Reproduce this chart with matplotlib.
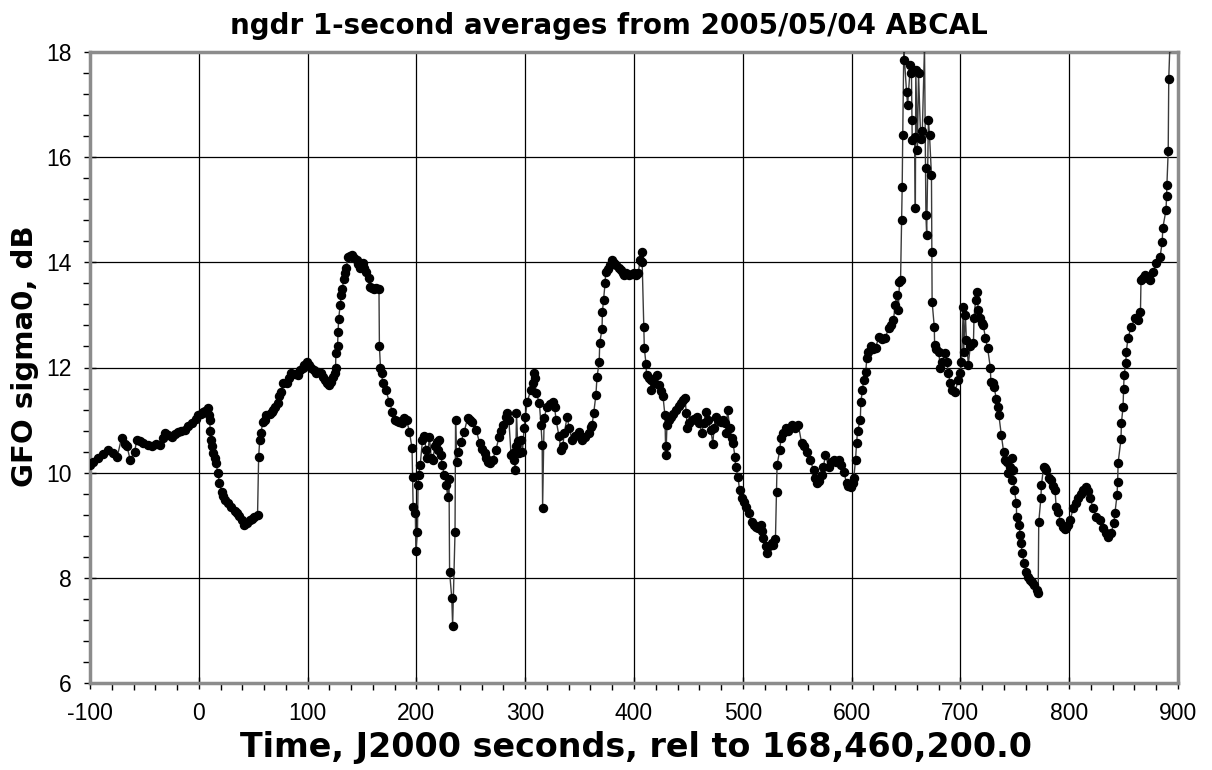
import matplotlib
matplotlib.use('Agg')
import matplotlib.pyplot as plt
from matplotlib.ticker import MultipleLocator

plt.rcParams['font.family'] = ['Liberation Sans', 'DejaVu Sans']
plt.rcParams['axes.unicode_minus'] = False

# Tempo (s, rel. a 168,460,200.0) e sigma0 (dB)
tempi = [
    -100, -97, -93, -88, -83, -79, -75, -71, -68, -66, -63, -59, -57, -54, -51, -47, -43, -39, -36, -33,
    -31, -28, -25, -22, -19, -16, -13, -10, -6, -3, -1, 2, 4, 6, 8, 9, 10, 10.5, 11, 12,
    13, 14.5, 15.6, 17.5, 19, 21, 22.5, 24, 27, 30, 33, 35, 37, 39.5, 42, 44, 47, 49, 51, 54,
    55, 56, 57, 59, 60.5, 62, 65, 67, 68, 70, 72.5, 74, 76, 77, 80.7, 83, 85, 88, 91, 93,
    95.6, 97, 99, 101, 103.5, 106, 108, 110, 112.6, 114, 115.6, 118, 120, 121.5, 123, 125, 125.7, 126, 127.5, 128,
    128.5, 130, 131, 132, 133, 134.5, 135.6, 137, 139, 141, 143, 145, 146.5, 148, 150.6, 152, 154, 156, 157, 159,
    161, 163, 165.6, 166, 167, 168, 169, 172, 175, 178, 180, 182, 184, 187, 189, 191, 193.6, 196, 196.5, 197,
    199, 199.5, 201, 201.5, 202, 203.5, 205.6, 207, 209, 210, 212, 213.6, 215, 217, 219, 220, 221, 222.6, 223.6, 225.7,
    227.5, 228.7, 230, 230.5, 232.5, 233.3, 235.5, 236, 237, 238.6, 241, 244, 247, 249, 251.5, 255, 258, 260, 262.6, 264,
    266, 268, 270, 273, 276, 278, 280, 282, 283.6, 285, 287, 288.5, 290, 291, 291.5, 292, 293, 294.5, 296, 297.5,
    299, 300, 302, 305, 307, 308, 309, 310, 313, 314.5, 315.6, 316, 317.4, 320, 323, 325.7, 327, 328.4, 331, 333,
    334.5, 336, 338.5, 340.5, 343, 346, 349.5, 352, 355, 358.7, 360.5, 361.5, 363, 365, 366, 368, 368.5, 370.6, 371, 372,
    373.4, 374, 376, 378, 380, 382, 383.5, 386, 388, 390, 391, 393, 395.4, 398, 400, 402, 404, 405.5, 407, 407.5,
    409, 409.5, 411, 411.5, 413.5, 415.6, 415.8, 418, 421, 423, 425, 426.6, 428.4, 429, 429.4, 430.3, 432, 434, 436, 438.5,
    441, 443, 445, 447, 448, 449, 451, 453, 455.5, 458, 460, 462.4, 464, 466, 468, 470.6, 472.5, 473.5, 475, 477.5,
    480, 482, 484, 484.5, 486, 488, 490, 491, 492.8, 493.4, 495.6, 497, 499.6, 501, 502.6, 505.5, 508, 510, 512, 514,
    516.5, 518, 519, 521, 522, 524, 526.6, 528, 530, 531, 531.5, 534, 535, 537, 539.5, 542, 545, 548, 551, 554,
    556, 559, 562, 565, 566.5, 568, 570, 572.5, 574, 576, 579, 581, 583.5, 586, 588, 590, 592.7, 595.5, 597, 599,
    601, 602, 603.6, 604.6, 605.5, 608, 608.5, 610, 611, 613, 614, 615.5, 617.4, 620, 622, 625, 628, 631, 634, 636,
    638.5, 640, 641.5, 643, 644, 645, 646, 646.5, 647, 648, 648.6, 650.5, 651.5, 654, 655, 655.5, 655.7, 658, 658.6, 659,
    660.5, 661.5, 663.5, 665, 667, 668, 668.3, 669, 670.6, 671.6, 673.4, 673.8, 674, 676, 676.3, 678, 680, 681.6, 683, 686,
    687.5, 689, 690.5, 692, 695, 698, 700, 701, 702.7, 703, 704.6, 705.5, 707.3, 709, 712, 712.5, 714, 715, 716.5, 718,
    719.5, 721, 723, 725, 727.5, 728, 730, 731, 733, 735, 735.3, 737.6, 739.7, 741, 743, 744, 745.5, 747, 747.5, 748.6,
    749.5, 751.5, 751.6, 754, 755, 756, 756.5, 758.7, 760.6, 762, 764, 766, 768, 770, 771.5, 772, 774, 774.5, 776.5, 778,
    779, 781, 783.5, 785, 787, 788, 790, 792, 794.5, 796, 797.5, 799, 801, 803.7, 806, 808, 810.5, 813, 815.6, 817,
    819, 822, 825, 828.4, 831, 833.5, 835.8, 838.6, 841, 842, 844, 844.5, 845, 847.6, 848, 849.5, 850, 850.5, 852, 852.5,
    854, 857, 860.5, 863, 865.5, 866, 868, 870, 872, 874, 877, 880, 883.5, 885.5, 886, 889, 889.5, 889.8, 891, 891.5,
    892.5,
]

sigma0 = [
    10.15, 10.2, 10.28, 10.35, 10.43, 10.38, 10.3, 10.66, 10.55, 10.5, 10.24, 10.4, 10.62, 10.6, 10.57, 10.52, 10.5, 10.55, 10.53, 10.65,
    10.76, 10.72, 10.68, 10.74, 10.78, 10.8, 10.81, 10.88, 10.95, 11.02, 11.1, 11.12, 11.16, 11.18, 11.23, 11.1, 11.0, 10.8, 10.62, 10.5,
    10.37, 10.28, 10.19, 10.0, 9.8, 9.64, 9.55, 9.48, 9.42, 9.35, 9.28, 9.23, 9.17, 9.1, 9.0, 9.05, 9.1, 9.12, 9.16, 9.2,
    10.3, 10.62, 10.75, 10.97, 11.0, 11.1, 11.12, 11.16, 11.19, 11.25, 11.33, 11.45, 11.54, 11.7, 11.71, 11.8, 11.9, 11.88, 11.86, 11.95,
    12.0, 12.05, 12.1, 12.05, 12.0, 11.95, 11.9, 11.92, 11.9, 11.82, 11.76, 11.7, 11.67, 11.72, 11.82, 11.9, 12.0, 12.28, 12.4, 12.68,
    12.92, 13.19, 13.38, 13.49, 13.68, 13.8, 13.89, 14.1, 14.12, 14.14, 14.08, 14.05, 13.97, 13.9, 13.99, 13.9, 13.82, 13.7, 13.53, 13.52,
    13.5, 13.51, 13.5, 12.4, 12.0, 11.9, 11.7, 11.57, 11.35, 11.16, 11.0, 10.98, 10.97, 10.95, 11.04, 11.0, 10.78, 10.46, 9.92, 9.35,
    9.23, 8.51, 8.87, 9.77, 9.96, 10.15, 10.62, 10.7, 10.43, 10.28, 10.68, 10.28, 10.24, 10.5, 10.59, 10.43, 10.62, 10.34, 10.15, 9.96,
    9.77, 9.54, 9.88, 8.11, 7.62, 7.09, 8.87, 11.0, 10.2, 10.4, 10.59, 10.78, 11.04, 11.0, 10.97, 10.81, 10.57, 10.45, 10.38, 10.28,
    10.2, 10.18, 10.24, 10.43, 10.68, 10.8, 10.91, 11.05, 11.14, 11.0, 10.34, 10.38, 10.24, 10.05, 10.5, 11.14, 10.6, 10.38, 10.62, 10.4,
    10.85, 11.06, 11.35, 11.57, 11.7, 11.9, 11.8, 11.52, 11.33, 10.91, 10.53, 9.33, 11.04, 11.25, 11.3, 11.35, 11.25, 11.0, 10.7, 10.43,
    10.5, 10.76, 11.06, 10.85, 10.62, 10.7, 10.78, 10.62, 10.68, 10.76, 10.87, 10.91, 11.14, 11.48, 11.82, 12.1, 12.47, 12.73, 13.06, 13.29,
    13.6, 13.82, 13.88, 13.95, 14.05, 13.98, 13.95, 13.9, 13.86, 13.8, 13.76, 13.8, 13.76, 13.78, 13.8, 13.76, 13.8, 14.05, 14.2, 14.0,
    12.77, 12.37, 12.07, 11.86, 11.8, 11.76, 11.57, 11.7, 11.86, 11.67, 11.55, 11.46, 11.1, 10.5, 10.34, 10.91, 11.0, 11.06, 11.12, 11.19,
    11.26, 11.33, 11.38, 11.42, 11.14, 10.85, 10.95, 11.0, 11.02, 11.06, 10.95, 10.76, 10.95, 11.16, 11.0, 10.81, 10.55, 10.85, 11.06, 11.0,
    10.97, 11.0, 10.95, 10.76, 11.19, 10.85, 10.66, 10.57, 10.3, 10.11, 9.92, 9.67, 9.52, 9.45, 9.35, 9.23, 9.06, 9.0, 8.97, 8.95,
    9.0, 8.9, 8.76, 8.6, 8.48, 8.6, 8.67, 8.62, 8.73, 9.64, 10.15, 10.43, 10.66, 10.75, 10.85, 10.8, 10.91, 10.85, 10.91, 10.57,
    10.5, 10.4, 10.24, 10.05, 9.9, 9.8, 9.85, 9.96, 10.1, 10.34, 10.11, 10.2, 10.24, 10.2, 10.24, 10.15, 10.02, 9.8, 9.75, 9.73,
    9.8, 9.9, 10.24, 10.57, 10.8, 11.0, 11.35, 11.57, 11.76, 11.92, 12.18, 12.3, 12.4, 12.35, 12.37, 12.58, 12.55, 12.56, 12.75, 12.8,
    12.9, 13.19, 13.38, 13.1, 13.63, 13.67, 14.8, 15.43, 16.42, 18.1, 17.85, 17.24, 16.99, 17.75, 17.6, 16.7, 16.33, 16.38, 15.03, 17.66,
    16.14, 17.6, 16.35, 16.5, 18.1, 15.8, 14.9, 14.52, 16.7, 16.42, 15.66, 14.2, 13.25, 12.77, 12.43, 12.35, 12.3, 12.0, 12.1, 12.28,
    12.1, 11.9, 11.7, 11.57, 11.54, 11.76, 11.9, 12.1, 13.16, 12.3, 13.0, 12.52, 12.05, 12.4, 12.47, 12.94, 13.29, 13.44, 13.1, 12.94,
    12.85, 12.81, 12.56, 12.37, 12.0, 11.73, 11.7, 11.63, 11.4, 11.25, 11.1, 10.72, 10.4, 10.24, 10.2, 10.0, 10.1, 10.28, 9.86, 10.05,
    9.67, 9.42, 9.16, 9.0, 8.82, 8.67, 8.48, 8.29, 8.11, 8.02, 7.96, 7.92, 7.87, 7.77, 7.71, 9.06, 9.52, 9.77, 10.11, 10.08,
    10.05, 9.9, 9.86, 9.75, 9.67, 9.35, 9.25, 9.06, 8.97, 8.93, 8.95, 9.0, 9.1, 9.33, 9.42, 9.52, 9.6, 9.67, 9.73, 9.65,
    9.52, 9.33, 9.16, 9.1, 8.95, 8.85, 8.78, 8.86, 9.04, 9.23, 9.58, 9.83, 10.19, 10.64, 10.95, 11.25, 11.6, 11.86, 12.09, 12.3,
    12.56, 12.77, 12.94, 12.9, 13.06, 13.67, 13.7, 13.76, 13.7, 13.67, 13.82, 13.99, 14.1, 14.39, 14.65, 15.0, 15.26, 15.47, 16.12, 17.49,
    18.1,
]

tick_x = list(range(-100, 1000, 100))
tick_y = list(range(6, 20, 2))

fig = plt.figure(figsize=(12.12, 7.70), dpi=100)
asse = fig.add_axes([90 / 1212, 1 - 683 / 770, 1088 / 1212, 631 / 770])

# serie: linea sottile + cerchi neri
asse.plot(tempi, sigma0, color='#3a3a3a', linewidth=1.0, marker='o',
          markersize=5.8, markerfacecolor='black', markeredgecolor='black', zorder=3)

asse.set_xlim(-100, 900)
asse.set_ylim(6, 18)
asse.set_xticks(tick_x)
asse.set_yticks(tick_y)
asse.xaxis.set_minor_locator(MultipleLocator(20))
asse.yaxis.set_minor_locator(MultipleLocator(0.4))
asse.grid(True, which='major', color='black', linewidth=0.9)
asse.set_axisbelow(True)

for lato in asse.spines.values():
    lato.set_color('#8c8c8c')
    lato.set_linewidth(2.5)

asse.tick_params(which='major', direction='inout', length=9, width=1, labelsize=16.5, pad=9)
asse.tick_params(which='minor', direction='out', length=5, width=1)

# titoli: carattere largo e grassetto come nell'originale
fig.text(609 / 1212, 1 - 26 / 770, 'ngdr 1-second averages from 2005/05/04 ABCAL',
         ha='center', va='center', fontsize=20, fontweight='bold', family='DejaVu Sans')
fig.text(636 / 1212, 1 - 747 / 770, 'Time, J2000 seconds, rel to 168,460,200.0',
         ha='center', va='center', fontsize=24, fontweight='bold', family='DejaVu Sans')
fig.text(25 / 1212, 1 - 356 / 770, 'GFO sigma0, dB', rotation=90,
         ha='center', va='center', fontsize=21, fontweight='bold', family='DejaVu Sans')

fig.savefig('out.png', dpi=100)
